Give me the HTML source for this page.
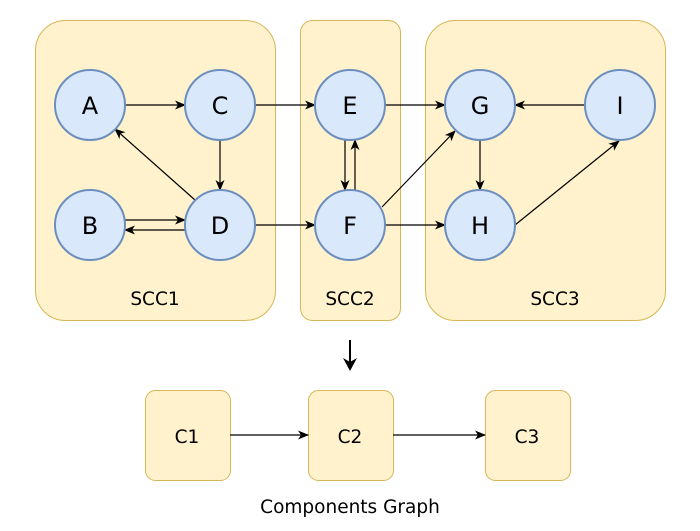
<!DOCTYPE html>
<html><head><meta charset="utf-8"><style>
html,body{margin:0;padding:0;background:#fff;}
svg{display:block;font-family:"DejaVu Sans","Liberation Sans",sans-serif;}
.n{font-size:24px;}
.l{font-size:18.5px;}
</style></head><body>
<svg width="700" height="531" viewBox="0 0 700 531">
<defs>
<marker id="ah" markerWidth="11" markerHeight="9" refX="10" refY="4.5" orient="auto" markerUnits="userSpaceOnUse">
<path d="M0,0 L11,4.5 L0,9 L3,4.5 Z" fill="#000"/>
</marker>
</defs>
<g fill="#fff2cc" stroke="#d6b656" stroke-width="1">
<rect x="35.5" y="20.5" width="240" height="300" rx="30"/>
<rect x="300.5" y="20.5" width="100" height="300" rx="12"/>
<rect x="425.5" y="20.5" width="240" height="300" rx="30"/>
<rect x="145.5" y="390.5" width="85" height="90" rx="10"/>
<rect x="308.5" y="390.5" width="85" height="90" rx="10"/>
<rect x="485.5" y="390.5" width="85" height="90" rx="10"/>
</g>
<g stroke="#000" stroke-width="1.2" marker-end="url(#ah)" fill="none">
<line x1="125" y1="105" x2="185" y2="105"/>
<line x1="255" y1="105" x2="315" y2="105"/>
<line x1="385" y1="105" x2="445" y2="105"/>
<line x1="585" y1="105" x2="515" y2="105"/>
<line x1="220" y1="140" x2="220" y2="190"/>
<line x1="195" y1="200" x2="115" y2="129"/>
<line x1="125" y1="220" x2="185" y2="220"/>
<line x1="185" y1="230" x2="125" y2="230"/>
<line x1="255" y1="225" x2="315" y2="225"/>
<line x1="345" y1="140" x2="345" y2="190"/>
<line x1="355" y1="190" x2="355" y2="140"/>
<line x1="382" y1="207" x2="455" y2="131"/>
<line x1="385" y1="225" x2="445" y2="225"/>
<line x1="480" y1="140" x2="480" y2="190"/>
<line x1="515" y1="225" x2="619" y2="141"/>
<line x1="230" y1="435" x2="308" y2="435"/>
<line x1="393" y1="435" x2="485" y2="435"/>
</g>
<g>
<line x1="350" y1="340" x2="350" y2="362" stroke="#000" stroke-width="2"/>
<path d="M343,358 L350,371 L357,358 L350,362 Z" fill="#000"/>
</g>
<g fill="#dae8fc" stroke="#6c8ebf" stroke-width="2">
<circle cx="90" cy="105" r="35"/>
<circle cx="220" cy="105" r="35"/>
<circle cx="350" cy="105" r="35"/>
<circle cx="480" cy="105" r="35"/>
<circle cx="620" cy="105" r="35"/>
<circle cx="90" cy="225" r="35"/>
<circle cx="220" cy="225" r="35"/>
<circle cx="350" cy="225" r="35"/>
<circle cx="480" cy="225" r="35"/>
</g>
<g text-anchor="middle" fill="#000">
<text class="n" font-size="24" x="90" y="114">A</text>
<text class="n" font-size="24" x="220" y="114">C</text>
<text class="n" font-size="24" x="350" y="114">E</text>
<text class="n" font-size="24" x="480" y="114">G</text>
<text class="n" font-size="24" x="620" y="114">I</text>
<text class="n" font-size="24" x="90" y="234">B</text>
<text class="n" font-size="24" x="220" y="234">D</text>
<text class="n" font-size="24" x="350" y="234">F</text>
<text class="n" font-size="24" x="480" y="234">H</text>
<text class="l" font-size="18.5" x="155" y="305">SCC1</text>
<text class="l" font-size="18.5" x="350" y="305">SCC2</text>
<text class="l" font-size="18.5" x="555" y="305">SCC3</text>
<text class="l" font-size="18.5" x="187" y="443">C1</text>
<text class="l" font-size="18.5" x="350" y="443">C2</text>
<text class="l" font-size="18.5" x="527" y="443">C3</text>
<text class="l" font-size="18.5" x="350" y="513">Components Graph</text>
</g>
</svg>
</body></html>
